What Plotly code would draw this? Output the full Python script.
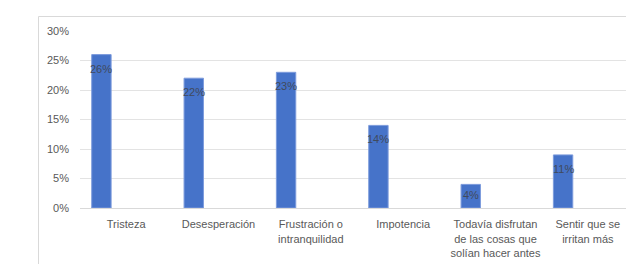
import plotly.graph_objects as go

categories = ["Tristeza", "Desesperación", "Frustración o<br>intranquilidad", "Impotencia",
              "Todavía disfrutan<br>de las cosas que<br>solían hacer antes", "Sentir que se<br>irritan más"]
values = [26, 22, 23, 14, 4, 9]
labels = ["26%", "22%", "23%", "14%", "4%", "11%"]
y_ticks = [0, 5, 10, 15, 20, 25, 30]

# page body has an 8px margin; figure is sized to fill the rest of the window
W, H = 626, 256
ML, MR, MT, MB = 72, 0, 23, 56
FONT = "Liberation Sans"
GRAY = "#595959"

BAR_W = 0.21
BAR_OFF = -0.373

fig = go.Figure()
fig.add_trace(go.Bar(
    x=categories, y=values,
    width=BAR_W, offset=BAR_OFF,
    marker=dict(color="#4673c9", line=dict(color="#7d9bdc", width=1)),
    hoverinfo="skip",
))

for c, v, t in zip(categories, values, labels):
    fig.add_annotation(
        x=c, y=v, xref="x", yref="y", text=t, showarrow=False,
        xshift=(BAR_OFF + BAR_W / 2) * (W - ML - MR) / len(categories),
        yanchor="top", yshift=-6 if v > 6 else -3,
        font=dict(family=FONT, size=11, color="#404a5c"),
    )

pw, ph = W - ML - MR, H - MT - MB
def px_x(px):
    return (px - ML) / pw
def px_y(py):
    return (H - MB - py) / ph

fig.add_shape(type="line", xref="paper", yref="paper",
              x0=px_x(30.5), x1=px_x(W + 5), y0=px_y(8.5), y1=px_y(8.5),
              line=dict(color="#d9d9d9", width=1))
fig.add_shape(type="line", xref="paper", yref="paper",
              x0=px_x(30.5), x1=px_x(30.5), y0=px_y(8.5), y1=px_y(H + 5),
              line=dict(color="#d9d9d9", width=1))

fig.update_layout(
    width=W, height=H,
    margin=dict(l=ML, r=MR, t=MT, b=MB, pad=0),
    paper_bgcolor="white", plot_bgcolor="white",
    showlegend=False,
    font=dict(family=FONT, size=11, color=GRAY),
    xaxis=dict(
        showgrid=False, showline=True, linecolor="#d9d9d9", linewidth=1,
        ticks="", tickfont=dict(family=FONT, size=11, color=GRAY),
        ticklabelstandoff=6, tickangle=0,
    ),
    yaxis=dict(
        range=[0, 30], tickvals=y_ticks, ticktext=[f"{v}%" for v in y_ticks],
        showgrid=True, gridcolor="#e3e3e3", gridwidth=1,
        zeroline=False, showline=False, ticks="",
        tickfont=dict(family=FONT, size=11, color=GRAY),
        ticklabelstandoff=10,
    ),
)

fig.write_html("out.html")
